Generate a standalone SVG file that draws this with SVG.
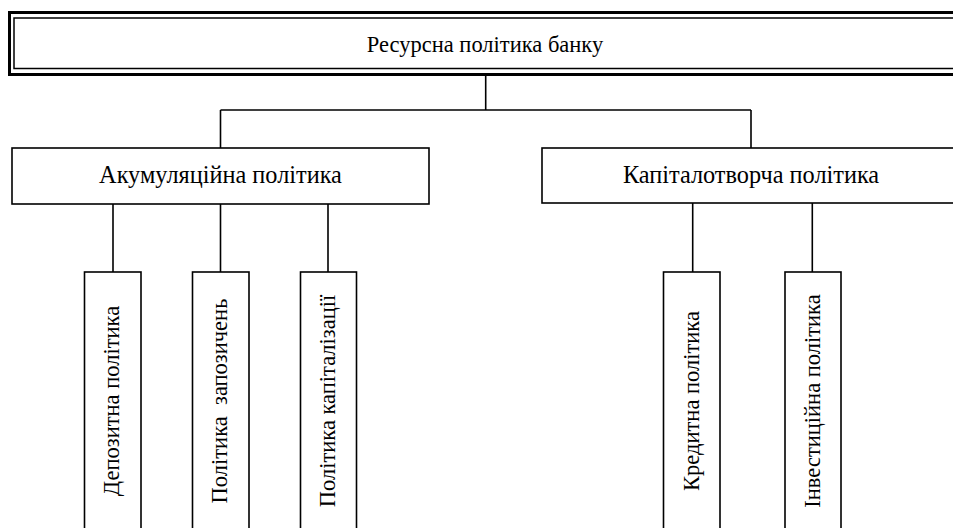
<svg xmlns="http://www.w3.org/2000/svg" width="953" height="528" viewBox="0 0 953 528">
<style>
  .box { fill: #ffffff; stroke: #000000; stroke-width: 1.6; }
  .lbl { font-family: "Liberation Serif", "Times New Roman", serif; font-size: 22.5px; fill: #000000; text-anchor: middle; }
  .lbl2 { font-family: "Liberation Serif", "Times New Roman", serif; font-size: 24.3px; fill: #000000; text-anchor: middle; }
  .conn { fill: none; stroke: #000000; stroke-width: 1.6; }
</style>
<rect x="0" y="0" width="953" height="528" fill="#ffffff"/>
<g id="connectors">
  <path class="conn" d="M485.7 76 V110 M220.5 110 H751 M220.5 110 V148 M751 110 V148"/>
  <path class="conn" d="M113 204 V272 M220.5 204 V272 M328 204 V272"/>
  <path class="conn" d="M692.7 203 V272 M812.3 203 V272"/>
</g>
<g id="root">
  <rect x="9.5" y="12.5" width="960" height="62" fill="#ffffff" stroke="#000000" stroke-width="3"/>
  <rect x="14" y="18" width="960" height="50.5" fill="none" stroke="#000000" stroke-width="1.5"/>
  <text class="lbl" x="485" y="52">Ресурсна політика банку</text>
</g>
<g id="accum">
  <rect class="box" x="12" y="148" width="417" height="56"/>
  <text class="lbl2" x="220.5" y="183">Акумуляційна політика</text>
</g>
<g id="capital">
  <rect class="box" x="542" y="148" width="430" height="55"/>
  <text class="lbl2" x="751" y="183">Капіталотворча політика</text>
</g>
<g id="deposit">
  <rect class="box" x="84.5" y="272" width="56.5" height="270"/>
  <text class="lbl" transform="translate(118.5 401) rotate(-90)">Депозитна політика</text>
</g>
<g id="borrow">
  <rect class="box" x="192.5" y="272" width="56.5" height="270"/>
  <text class="lbl" transform="translate(226.5 401) rotate(-90)" xml:space="preserve">Політика  запозичень</text>
</g>
<g id="capitalization">
  <rect class="box" x="300.5" y="272" width="56" height="270"/>
  <text class="lbl" transform="translate(334.5 401) rotate(-90)">Політика капіталізації</text>
</g>
<g id="credit">
  <rect class="box" x="663.5" y="272" width="56.5" height="270"/>
  <text class="lbl" transform="translate(698.5 401) rotate(-90)">Кредитна політика</text>
</g>
<g id="invest">
  <rect class="box" x="785" y="272" width="56" height="270"/>
  <text class="lbl" transform="translate(819.5 401) rotate(-90)">Інвестиційна політика</text>
</g>
</svg>
